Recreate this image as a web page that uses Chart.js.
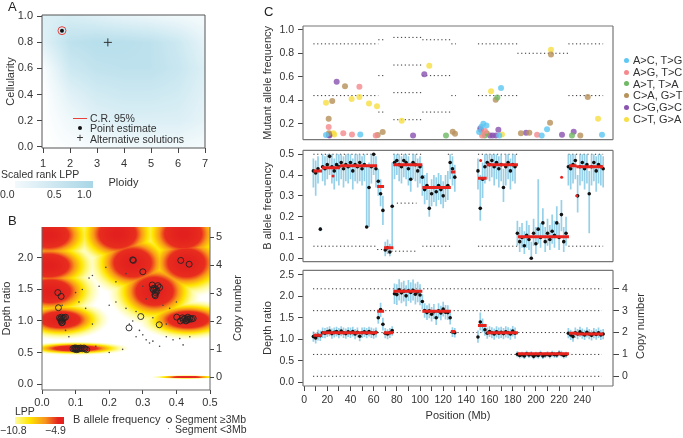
<!DOCTYPE html>
<html>
<head>
<meta charset="utf-8">
<script src="https://cdn.jsdelivr.net/npm/chart.js@4/dist/chart.umd.min.js"></script>
<style>
body{margin:0;background:#fff;font-family:"Liberation Sans",Arial,Helvetica,sans-serif;color:#333}
#fig{position:relative;width:683px;height:438px;overflow:hidden}
canvas{position:absolute}
.t{position:absolute;white-space:nowrap;font-size:10.5px;line-height:12px}
.big{font-size:13px;color:#222}
.rot{transform:translate(-50%,-50%) rotate(-90deg);font-size:11px}
</style>
</head>
<body>
<div id="fig">
  <canvas id="chartA" width="230" height="200" style="left:0;top:0"></canvas>
  <canvas id="chartB" width="250" height="238" style="left:0;top:200px"></canvas>
  <canvas id="chartC1" width="433" height="150" style="left:250px;top:0"></canvas>
  <canvas id="chartC2" width="433" height="132" style="left:250px;top:140px"></canvas>
  <canvas id="chartC3" width="433" height="178" style="left:250px;top:260px"></canvas>

  <div class="t big" style="left:8px;top:1px">A</div>
  <div class="t big" style="left:8px;top:215px">B</div>
  <div class="t big" style="left:264px;top:6px">C</div>

  <!-- panel A legend -->
  <div style="position:absolute;left:73px;top:117.5px;width:14px;height:1.2px;background:#e8413c"></div>
  <div class="t" style="left:90px;top:112px">C.R. 95%</div>
  <div style="position:absolute;left:78px;top:126px;width:4px;height:4px;border-radius:50%;background:#111"></div>
  <div class="t" style="left:90px;top:122px">Point estimate</div>
  <div class="t" style="left:76.5px;top:132px;font-size:12px">+</div>
  <div class="t" style="left:90px;top:133px">Alternative solutions</div>
  <div class="t" style="left:1px;top:168px">Scaled rank LPP</div>
  <div style="position:absolute;left:15px;top:181px;width:78px;height:7px;background:linear-gradient(to right,#f3f9fc,#a9d6e6)"></div>
  <div class="t" style="left:0;top:188px">0.0</div>
  <div class="t" style="left:47px;top:188px">0.5</div>
  <div class="t" style="left:77px;top:188px">1.0</div>

  <!-- panel B legend -->
  <div class="t" style="left:15px;top:405px">LPP</div>
  <div style="position:absolute;left:15px;top:417px;width:49px;height:7px;background:linear-gradient(to right,#fffca0,#ffe500 30%,#f7931e 62%,#e4231f 88%)"></div>
  <div class="t" style="left:0;top:424px">&minus;10.8</div>
  <div class="t" style="left:45px;top:424px">&minus;4.9</div>
  <div class="t" style="left:73px;top:413px;font-size:11px">B allele frequency</div>
  <div style="position:absolute;left:165.5px;top:416.5px;width:4px;height:4px;border:0.9px solid #222;border-radius:50%"></div>
  <div class="t" style="left:175px;top:413px">Segment &ge;3Mb</div>
  <div style="position:absolute;left:167.5px;top:427.5px;width:1.6px;height:1.6px;border-radius:50%;background:#444"></div>
  <div class="t" style="left:175px;top:423px">Segment &lt;3Mb</div>

  <div class="t rot" style="left:237px;top:308px">Copy number</div>
  <div class="t rot" style="left:640px;top:326px">Copy number</div>
  <div id="mutLegend"></div>
</div>

<script>
// ===== Panel A data =====
const aPloidyGrid = [1, 2, 3, 4, 5, 6, 7];
const aCellGrid = [0, 0.2, 0.4, 0.6, 0.8, 1.0];
const aLppGrid = [            // scaled rank LPP, one row per aCellGrid value
  [0.00, 0.05, 0.10, 0.15, 0.15, 0.15, 0.10],
  [0.00, 0.15, 0.30, 0.35, 0.35, 0.35, 0.25],
  [0.00, 0.30, 0.45, 0.50, 0.50, 0.45, 0.30],
  [0.05, 0.50, 0.62, 0.65, 0.65, 0.55, 0.35],
  [0.30, 0.65, 0.72, 0.70, 0.65, 0.50, 0.25],
  [0.35, 0.40, 0.32, 0.25, 0.20, 0.15, 0.10]
];
const aEstPloidy = [1.7];
const aEstCell = [0.89];
const aAltPloidy = [3.4];
const aAltCell = [0.80];
const aPloidyTicks = [1, 2, 3, 4, 5, 6, 7];
const aCellTicks = [0, 0.2, 0.4, 0.6, 0.8, 1.0];

// ===== Panel B data =====
const bPeakBaf   = [0.02, 0.02, 0.025, 0.055, 0.10, 0.225, 0.27, 0.335, 0.42, 0.43, 0.435, 0.43];
const bPeakDepth = [2.36, 1.88, 1.47, 1.02, 0.565, 2.38, 1.92, 1.47, 2.38, 1.92, 1.02, 0.11];
const bPeakSdBaf = [0.07, 0.07, 0.07, 0.068, 0.075, 0.065, 0.065, 0.065, 0.065, 0.065, 0.07, 0.05];
const bPeakSdDep = [0.23, 0.21, 0.21, 0.15, 0.05, 0.26, 0.26, 0.26, 0.26, 0.26, 0.15, 0.014];
const bSegBaf = [0.27, 0.272, 0.30, 0.413, 0.438, 0.047, 0.057, 0.049, 0.294, 0.259, 0.349, 0.401,
  0.052, 0.058, 0.063, 0.060, 0.057, 0.061, 0.066, 0.055, 0.059, 0.070,
  0.092, 0.098, 0.101, 0.104, 0.107, 0.110, 0.103, 0.115, 0.120, 0.128, 0.133, 0.125, 0.097,
  0.328, 0.335, 0.340, 0.345, 0.332, 0.338, 0.336, 0.342, 0.330, 0.350, 0.337,
  0.420, 0.425, 0.430, 0.432, 0.436, 0.440, 0.428, 0.434, 0.445, 0.418, 0.450, 0.412];
const bSegDepth = [1.97, 1.96, 1.78, 1.96, 1.90, 1.45, 1.39, 1.21, 1.07, 0.89, 0.94, 1.06,
  1.05, 1.06, 1.04, 1.02, 1.00, 0.98, 1.05, 1.03, 0.97, 1.06,
  0.56, 0.55, 0.57, 0.56, 0.55, 0.565, 0.545, 0.57, 0.56, 0.555, 0.545, 0.57, 0.57,
  1.57, 1.52, 1.50, 1.56, 1.49, 1.45, 1.42, 1.47, 1.51, 1.53, 1.40,
  1.02, 1.04, 1.01, 1.03, 1.02, 1.04, 1.00, 1.06, 1.03, 1.05, 1.04, 1.00];
const bSmallBaf = [0.19, 0.15, 0.14, 0.17, 0.12, 0.11, 0.13, 0.20, 0.22, 0.25, 0.28, 0.27, 0.26, 0.29,
  0.28, 0.30, 0.31, 0.32, 0.33, 0.35, 0.37, 0.39, 0.41, 0.42, 0.36, 0.38, 0.40, 0.31, 0.30, 0.22,
  0.25, 0.07, 0.08, 0.16, 0.20, 0.24, 0.44, 0.37, 0.33, 0.06, 0.10, 0.15];
const bSmallDepth = [1.85, 1.72, 1.68, 1.55, 1.50, 1.30, 1.20, 1.25, 1.30, 1.20, 1.15, 1.00, 0.95, 0.85,
  0.75, 0.78, 0.70, 0.65, 0.68, 0.60, 0.75, 0.70, 0.72, 0.62, 1.25, 1.20, 1.30, 1.35, 1.55, 1.62,
  1.75, 0.85, 0.75, 0.60, 0.50, 0.55, 0.75, 0.95, 1.05, 1.25, 1.45, 0.95];
const bBafTicks = [0, 0.1, 0.2, 0.3, 0.4, 0.5];
const bDepthTicks = [0, 0.5, 1.0, 1.5, 2.0];
const bCopyTicks = [0, 1, 2, 3, 4, 5];
const bCopyBase = 0.11, bCopyStep = 0.444;   // depth ratio of copy number 0, and per copy

// ===== Panel C data =====
const mutLabels = ['A>C, T>G', 'A>G, T>C', 'A>T, T>A', 'C>A, G>T', 'C>G,G>C', 'C>T, G>A'];
const mutColors = ['#5ec8f2', '#f58a8e', '#6fb865', '#b8925c', '#8b54b0', '#f7df45'];
const mutPos = [18.9, 18.9, 21.2, 21.2, 21.4, 21.4, 21.8, 23.0, 24.3, 25.2, 26.0, 28.1, 33.8, 35.3, 41.0, 41.3,
  47.7, 47.7, 48.5, 56.0, 61.8, 62.9, 63.5, 67.8, 84.2, 94.0, 103.7, 108.0, 122.4, 128.2, 130.2,
  151.0, 152.6, 153.6, 154.6, 155.9, 157.3, 157.5, 152.0, 154.0, 156.0, 153.0, 160.4, 162.7, 165.5,
  167.6, 168.4, 170.7, 161.3, 169.9, 166.7, 165.3,
  187.1, 191.5, 194.3, 201.0, 205.0, 209.6, 212.2, 213.0, 213.0, 222.5, 231.1, 232.6, 238.3, 244.7, 253.6, 257.0];
const mutAf = [0.38, 0.106, 0.243, 0.173, 0.12, 0.105, 0.10, 0.115, 0.394, 0.12, 0.11, 0.557, 0.12, 0.52, 0.412, 0.11,
  0.515, 0.428, 0.11, 0.372, 0.10, 0.35, 0.105, 0.13, 0.227, 0.10, 0.622, 0.694, 0.10, 0.133, 0.115,
  0.13, 0.15, 0.10, 0.20, 0.10, 0.185, 0.12, 0.16, 0.12, 0.14, 0.175, 0.10, 0.10, 0.10,
  0.15, 0.10, 0.11, 0.477, 0.504, 0.423, 0.404,
  0.12, 0.125, 0.125, 0.107, 0.10, 0.154, 0.21, 0.829, 0.789, 0.107, 0.10, 0.133, 0.10, 0.428, 0.243, 0.107];
const mutClass = [5, 0, 3, 1, 3, 4, 4, 5, 3, 5, 5, 4, 1, 3, 5, 1,
  1, 5, 0, 5, 1, 5, 3, 3, 5, 4, 4, 5, 2, 3, 3,
  0, 4, 1, 0, 2, 0, 3, 4, 5, 1, 0, 4, 4, 4,
  4, 0, 5, 5, 0, 2, 3,
  3, 4, 3, 1, 0, 0, 3, 5, 3, 4, 2, 4, 3, 3, 5, 0];
// expected mutant allele frequencies per segment (dotted)
const mafSegStart = [8, 8, 64, 64, 64, 77, 77, 77, 77, 102, 102, 102, 127, 127, 150, 150, 184, 228, 228];
const mafSegEnd   = [64, 64, 70, 70, 70, 102, 102, 102, 102, 127, 127, 127, 131, 131, 184, 184, 228, 258, 258];
const mafSegLevel = [0.88, 0.44, 0.915, 0.61, 0.30, 0.935, 0.70, 0.465, 0.235, 0.915, 0.61, 0.30, 0.88, 0.44, 0.88, 0.44, 0.80, 0.88, 0.44];

const binPos = [
  8, 10, 12, 14, 16, 18, 20, 22, 24, 26,
  28, 30, 32, 34, 36, 38, 40, 42, 44, 46,
  48, 50, 52, 54, 56, 58, 60, 62, 64, 66,
  68, 70, 72, 74, 76, 78, 80, 82, 84, 86,
  88, 90, 92, 94, 96, 98, 100, 102, 104, 106,
  108, 110, 112, 114, 116, 118, 120, 122, 124, 126,
  128, 130,
  150, 152, 154, 156, 158, 160, 162, 164, 166, 168,
  170, 172, 174, 176, 178, 180, 182, 184, 186, 188,
  190, 192, 194, 196, 198, 200, 202, 204, 206, 208,
  210, 212, 214, 216, 218, 220, 222, 224, 226, 228,
  230, 232, 234, 236, 238, 240, 242, 244, 246, 248,
  250, 252, 254, 256, 258];
const bafVal = [
  0.42, 0.41, 0.43, 0.14, 0.44, 0.43, 0.45, 0.49, 0.44, 0.42,
  0.45, 0.44, 0.46, 0.43, 0.45, 0.44, 0.46, 0.42, 0.45, 0.44,
  0.46, 0.43, 0.45, 0.15, 0.34, 0.44, 0.50, 0.43, 0.37, 0.31,
  0.23, 0.04, 0.05, 0.03, 0.25, 0.46, 0.47, 0.45, 0.44, 0.47,
  0.46, 0.43, 0.38, 0.46, 0.45, 0.42, 0.44, 0.39, 0.33, 0.35,
  0.24, 0.31, 0.34, 0.32, 0.35, 0.33, 0.30, 0.34, 0.35, 0.46,
  0.43, 0.39,
  0.42, 0.24, 0.38, 0.44, 0.46, 0.45, 0.47, 0.44, 0.46, 0.43,
  0.45, 0.34, 0.44, 0.46, 0.42, 0.45, 0.44, 0.12, 0.08, 0.10,
  0.06, 0.11, 0.09, 0.00, 0.12, 0.07, 0.14, 0.10, 0.17, 0.08,
  0.12, 0.09, 0.13, 0.11, 0.17, 0.10, 0.21, 0.08, 0.12, 0.44,
  0.43, 0.45, 0.47, 0.30, 0.44, 0.46, 0.43, 0.45, 0.31, 0.44,
  0.46, 0.42, 0.45, 0.44, 0.43];
const bafHigh = [
  0.48, 0.47, 0.49, 0.15, 0.50, 0.49, 0.50, 0.50, 0.50, 0.48,
  0.50, 0.50, 0.50, 0.49, 0.50, 0.50, 0.50, 0.48, 0.50, 0.50,
  0.50, 0.49, 0.50, 0.44, 0.46, 0.50, 0.50, 0.49, 0.43, 0.38,
  0.30, 0.08, 0.09, 0.07, 0.46, 0.50, 0.50, 0.50, 0.49, 0.50,
  0.50, 0.49, 0.46, 0.50, 0.50, 0.48, 0.49, 0.45, 0.40, 0.41,
  0.33, 0.38, 0.40, 0.39, 0.41, 0.40, 0.37, 0.40, 0.42, 0.50,
  0.49, 0.45,
  0.48, 0.40, 0.46, 0.50, 0.50, 0.50, 0.50, 0.50, 0.50, 0.49,
  0.50, 0.43, 0.50, 0.50, 0.48, 0.50, 0.50, 0.18, 0.15, 0.17,
  0.13, 0.18, 0.16, 0.08, 0.19, 0.15, 0.38, 0.17, 0.24, 0.15,
  0.19, 0.16, 0.21, 0.18, 0.25, 0.17, 0.28, 0.15, 0.20, 0.50,
  0.50, 0.50, 0.50, 0.40, 0.50, 0.50, 0.50, 0.50, 0.42, 0.50,
  0.50, 0.49, 0.50, 0.50, 0.49];
const bafLow = [
  0.34, 0.30, 0.36, 0.13, 0.37, 0.35, 0.38, 0.40, 0.36, 0.33,
  0.37, 0.35, 0.38, 0.34, 0.37, 0.36, 0.38, 0.33, 0.37, 0.36,
  0.37, 0.35, 0.37, 0.15, 0.15, 0.36, 0.40, 0.34, 0.30, 0.25,
  0.16, 0.01, 0.02, 0.01, 0.05, 0.38, 0.40, 0.37, 0.36, 0.39,
  0.38, 0.35, 0.32, 0.38, 0.37, 0.34, 0.36, 0.30, 0.26, 0.28,
  0.20, 0.25, 0.27, 0.25, 0.28, 0.26, 0.24, 0.27, 0.28, 0.38,
  0.35, 0.32,
  0.33, 0.18, 0.29, 0.36, 0.38, 0.37, 0.39, 0.35, 0.38, 0.34,
  0.37, 0.27, 0.35, 0.38, 0.33, 0.37, 0.36, 0.06, 0.03, 0.05,
  0.02, 0.05, 0.04, 0.00, 0.06, 0.02, 0.07, 0.05, 0.10, 0.03,
  0.06, 0.04, 0.07, 0.05, 0.10, 0.04, 0.13, 0.03, 0.06, 0.35,
  0.33, 0.36, 0.38, 0.22, 0.35, 0.37, 0.33, 0.36, 0.12, 0.35,
  0.37, 0.32, 0.36, 0.35, 0.34];
const depthVal = [
  1.06, 1.03, 1.09, 1.08, 1.15, 1.14, 1.17, 1.19, 1.13, 1.16,
  1.18, 1.14, 1.19, 1.15, 1.13, 1.17, 1.15, 1.18, 1.12, 1.16,
  1.07, 1.15, 1.17, 1.14, 1.18, 1.15, 1.13, 1.16, 1.50, 1.69,
  1.35, 1.14, 1.12, 1.15, 1.20, 2.06, 2.04, 2.15, 2.08, 2.12,
  2.01, 2.13, 2.09, 2.14, 2.05, 2.10, 2.03, 1.88, 1.67, 1.62,
  1.66, 1.58, 1.64, 1.50, 1.66, 1.61, 1.70, 1.63, 1.62, 1.50,
  1.17, 1.15,
  1.05, 1.40, 1.32, 1.22, 1.14, 1.18, 1.15, 1.12, 1.17, 1.14,
  1.16, 1.13, 1.17, 1.15, 1.12, 1.19, 1.14, 0.65, 0.62, 0.64,
  0.61, 0.66, 0.63, 0.65, 0.60, 0.64, 0.62, 0.66, 0.61, 0.63,
  0.65, 0.62, 0.66, 0.64, 0.63, 0.67, 0.65, 0.62, 0.64, 1.14,
  1.10, 1.06, 1.15, 1.12, 1.17, 1.13, 1.10, 1.16, 1.12, 1.09,
  1.14, 1.11, 1.15, 1.10, 1.12];
const depthHigh = [
  1.18, 1.15, 1.22, 1.20, 1.27, 1.26, 1.28, 1.30, 1.25, 1.27,
  1.29, 1.26, 1.30, 1.27, 1.25, 1.28, 1.27, 1.29, 1.24, 1.27,
  1.19, 1.27, 1.28, 1.26, 1.29, 1.27, 1.25, 1.27, 1.62, 1.85,
  1.50, 1.26, 1.23, 1.26, 1.30, 2.30, 2.28, 2.40, 2.33, 2.36,
  2.26, 2.38, 2.33, 2.39, 2.30, 2.34, 2.28, 2.05, 1.84, 1.79,
  1.83, 1.75, 1.82, 1.68, 1.84, 1.78, 1.87, 1.80, 1.79, 1.66,
  1.28, 1.26,
  1.20, 1.62, 1.48, 1.36, 1.27, 1.30, 1.28, 1.25, 1.30, 1.27,
  1.29, 1.26, 1.30, 1.28, 1.25, 1.31, 1.27, 0.72, 0.69, 0.71,
  0.68, 0.73, 0.70, 0.72, 0.67, 0.71, 0.69, 0.73, 0.68, 0.70,
  0.72, 0.69, 0.73, 0.71, 0.70, 0.74, 0.73, 0.69, 0.71, 1.26,
  1.22, 1.18, 1.27, 1.24, 1.29, 1.25, 1.22, 1.28, 1.24, 1.21,
  1.26, 1.23, 1.27, 1.22, 1.24];
const depthLow = [
  0.94, 0.90, 0.97, 0.96, 1.03, 1.02, 1.05, 1.07, 1.01, 1.04,
  1.06, 1.02, 1.07, 1.03, 1.01, 1.05, 1.03, 1.06, 1.00, 1.04,
  0.95, 1.03, 1.05, 1.02, 1.06, 1.03, 1.01, 1.04, 1.36, 1.52,
  1.20, 1.02, 1.00, 1.03, 1.08, 1.82, 1.80, 1.90, 1.84, 1.88,
  1.77, 1.89, 1.85, 1.90, 1.81, 1.86, 1.79, 1.70, 1.50, 1.45,
  1.49, 1.41, 1.47, 1.33, 1.49, 1.44, 1.53, 1.46, 1.45, 1.34,
  1.05, 1.04,
  0.92, 1.20, 1.16, 1.08, 1.01, 1.05, 1.02, 0.99, 1.04, 1.01,
  1.03, 1.00, 1.04, 1.02, 0.99, 1.06, 1.01, 0.58, 0.55, 0.57,
  0.54, 0.59, 0.56, 0.58, 0.53, 0.57, 0.55, 0.59, 0.54, 0.56,
  0.58, 0.55, 0.59, 0.57, 0.56, 0.60, 0.58, 0.55, 0.57, 1.02,
  0.98, 0.94, 1.03, 1.00, 1.05, 1.01, 0.98, 1.04, 1.00, 0.97,
  1.02, 0.99, 1.03, 0.98, 1.00];
// segmentation (red)
const segStart = [8, 15.5, 31, 63, 69, 77, 102, 126.6, 150, 157.5, 184.5, 228.5, 235];
const segEnd   = [15.5, 31, 63, 69, 77, 102, 126.6, 130.5, 157.5, 184.5, 228.5, 235, 258];
const segBaf   = [0.42, 0.435, 0.445, 0.345, 0.05, 0.45, 0.34, 0.415, 0.385, 0.45, 0.103, 0.445, 0.44];
const segDepth = [1.09, 1.15, 1.15, 1.65, 1.15, 2.12, 1.65, 1.18, 1.32, 1.15, 0.66, 1.14, 1.12];
const bafRedPos = [25, 152.3, 222.2, 235.2];
const bafRedVal = [0.395, 0.47, 0.39, 0.30];
// expected B allele frequencies per segment (dotted)
const bafExpStart = [8, 8, 63, 72, 77, 80, 102, 124, 150, 150, 228, 228];
const bafExpEnd   = [63, 63, 72, 97, 102, 97, 128, 128, 184, 184, 258, 258];
const bafExpLevel = [0.5, 0.058, 0.042, 0.034, 0.5, 0.265, 0.058, 0.5, 0.5, 0.058, 0.5, 0.058];
// copy number levels in depth ratio (dotted)
const cnDepthLevels = [0.135, 0.645, 1.155, 1.665, 2.175];
const cnLineStart = 7.7, cnLineEnd = 257;
const cCopyBase = 0.135, cCopyStep = 0.51;
const posTicks = [0, 10, 20, 30, 40, 50, 60, 70, 80, 90, 100, 110, 120, 130, 140, 150, 160, 170, 180, 190, 200, 210, 220, 230, 240, 250];
const mafTicks = [0.2, 0.4, 0.6, 0.8, 1.0];
const bafTicks = [0, 0.1, 0.2, 0.3, 0.4, 0.5];
const depthTicks = [0, 0.5, 1.0, 1.5, 2.0, 2.5];
const copyTicks = [0, 1, 2, 3, 4];

// ===== Helpers =====
Chart.defaults.font.family = '"Liberation Sans", Arial, Helvetica, sans-serif';
Chart.defaults.font.size = 10.5;
Chart.defaults.color = '#333';
Chart.defaults.animation = false;
Chart.defaults.plugins.legend.display = false;
Chart.defaults.plugins.tooltip.enabled = false;

const xy = (xs, ys) => xs.map((x, i) => ({ x, y: ys[i] }));
function hsegs(s, e, v) {
  const out = [];
  s.forEach((x, i) => out.push({ x, y: v[i] }, { x: e[i], y: v[i] }, { x: e[i], y: null }));
  return out;
}
function vbars(xs, lo, hi) {
  const out = [];
  xs.forEach((x, i) => out.push({ x, y: lo[i] }, { x, y: hi[i] }, { x, y: null }));
  return out;
}
const fix1 = v => v.toFixed(1);

function axis(o) {
  return {
    type: 'linear', position: o.position, min: o.min, max: o.max, display: o.display !== false,
    border: { display: false },
    grid: { drawOnChartArea: false, tickLength: o.tickLen || 5, color: '#444', lineWidth: 1 },
    ticks: { padding: o.pad == null ? 4 : o.pad, autoSkip: false, maxRotation: 0, callback: o.fmt || (v => String(v)), font: { size: o.size || 10.5 } },
    title: o.title ? { display: true, text: o.title, font: { size: 11 }, padding: o.titlePad, color: '#333' } : { display: false },
    afterBuildTicks: s => { s.ticks = (o.ticks || []).map(v => ({ value: v })); },
    afterFit: s => { if (o.width != null) s.width = o.width; if (o.height != null) s.height = o.height; }
  };
}

// frame around the plotting region
const boxPlugin = {
  id: 'box',
  afterDatasetsDraw(chart, args, opts) {
    const { ctx, chartArea: a } = chart;
    const sides = opts.sides || 'tlbr';
    ctx.save();
    ctx.strokeStyle = opts.color || '#555';
    ctx.lineWidth = opts.width || 1;
    ctx.beginPath();
    if (sides.includes('t')) { ctx.moveTo(a.left, a.top); ctx.lineTo(a.right, a.top); }
    if (sides.includes('b')) { ctx.moveTo(a.left, a.bottom); ctx.lineTo(a.right, a.bottom); }
    if (sides.includes('l')) { ctx.moveTo(a.left, a.top); ctx.lineTo(a.left, a.bottom); }
    if (sides.includes('r')) { ctx.moveTo(a.right, a.top); ctx.lineTo(a.right, a.bottom); }
    ctx.stroke();
    ctx.restore();
  }
};

// raster background drawn through the chart scales
function heatPlugin(field, colour) {
  return {
    id: 'heat',
    beforeDatasetsDraw(chart) {
      const { ctx, chartArea: a, scales: { x, y } } = chart;
      const w = Math.round(a.right - a.left), h = Math.round(a.bottom - a.top);
      const off = document.createElement('canvas');
      off.width = w; off.height = h;
      const octx = off.getContext('2d');
      const img = octx.createImageData(w, h);
      for (let j = 0; j < h; j++) {
        const yv = y.getValueForPixel(a.top + j + 0.5);
        for (let i = 0; i < w; i++) {
          const c = colour(field(x.getValueForPixel(a.left + i + 0.5), yv));
          const k = (j * w + i) * 4;
          img.data[k] = c[0]; img.data[k + 1] = c[1]; img.data[k + 2] = c[2]; img.data[k + 3] = 255;
        }
      }
      octx.putImageData(img, 0, 0);
      ctx.drawImage(off, a.left, a.top);
    }
  };
}

function ramp(stops, v) {
  if (v <= stops[0][0]) return stops[0][1];
  for (let i = 1; i < stops.length; i++) {
    if (v <= stops[i][0]) {
      const [v0, c0] = stops[i - 1], [v1, c1] = stops[i];
      const t = (v - v0) / (v1 - v0);
      return c0.map((c, k) => c + (c1[k] - c) * t);
    }
  }
  return stops[stops.length - 1][1];
}

function lppA(p, c) {
  const fi = Math.max(0, Math.min(aPloidyGrid.length - 1.001, p - aPloidyGrid[0]));
  const fj = Math.max(0, Math.min(aCellGrid.length - 1.001, c / 0.2));
  const i = Math.floor(fi), j = Math.floor(fj), u = fi - i, v = fj - j;
  return aLppGrid[j][i] * (1 - u) * (1 - v) + aLppGrid[j][i + 1] * u * (1 - v) +
         aLppGrid[j + 1][i] * (1 - u) * v + aLppGrid[j + 1][i + 1] * u * v;
}
const colourA = v => [255 - 100 * v, 255 - 45 * v, 255 - 27 * v];

function lppB(b, d) {
  let m = 0;
  for (let k = 0; k < bPeakBaf.length; k++) {
    const dx = (b - bPeakBaf[k]) / bPeakSdBaf[k], dy = (d - bPeakDepth[k]) / bPeakSdDep[k];
    m = Math.max(m, Math.exp(-0.5 * (dx * dx + dy * dy)));
  }
  return m;
}
const bStops = [[0.1, [255, 255, 255]], [0.22, [255, 251, 160]], [0.38, [255, 229, 0]],
                [0.55, [248, 150, 25]], [0.7, [232, 45, 30]], [1, [226, 32, 30]]];
const colourB = v => ramp(bStops, v);

// ===== Panel A =====
new Chart(document.getElementById('chartA'), {
  type: 'scatter',
  data: { datasets: [
    { data: xy(aEstPloidy, aEstCell), pointRadius: 4, pointBackgroundColor: 'rgba(0,0,0,0)', pointBorderColor: '#e8413c', pointBorderWidth: 1 },
    { data: xy(aEstPloidy, aEstCell), pointRadius: 2, pointBackgroundColor: '#111', pointBorderWidth: 0 },
    { data: xy(aAltPloidy, aAltCell), pointStyle: 'cross', pointRadius: 4, pointBorderColor: '#333', pointBorderWidth: 1 }
  ] },
  options: {
    responsive: false,
    layout: { padding: { top: 15, right: 25 } },
    scales: {
      x: axis({ position: 'bottom', min: 0.96, max: 7.0, ticks: aPloidyTicks, height: 52, size: 11,
                title: 'Ploidy', titlePad: { top: 0, bottom: 10 } }),
      y: axis({ position: 'left', min: -0.01, max: 1.01, ticks: aCellTicks, fmt: fix1, width: 42, size: 11,
                title: 'Cellularity', titlePad: { top: 4, bottom: 0 } })
    },
    plugins: { box: { color: '#555' } }
  },
  plugins: [heatPlugin(lppA, colourA), boxPlugin]
});

// ===== Panel B =====
new Chart(document.getElementById('chartB'), {
  type: 'scatter',
  data: { datasets: [
    { data: xy(bSegBaf, bSegDepth), pointRadius: 3, pointBackgroundColor: 'rgba(0,0,0,0)', pointBorderColor: '#222', pointBorderWidth: 0.9 },
    { data: xy(bSmallBaf, bSmallDepth), pointRadius: 0.8, pointBackgroundColor: '#444', pointBorderWidth: 0 }
  ] },
  options: {
    responsive: false,
    layout: { padding: { top: 27 } },
    scales: {
      x: axis({ position: 'bottom', min: 0, max: 0.5, ticks: bBafTicks, fmt: fix1, height: 48, tickLen: 4, pad: 2, size: 11 }),
      y: axis({ position: 'left', min: -0.095, max: 2.49, ticks: bDepthTicks, fmt: fix1, width: 42, size: 11,
                title: 'Depth ratio', titlePad: { top: 0, bottom: 0 } }),
      y2: axis({ position: 'right', min: (-0.095 - bCopyBase) / bCopyStep, max: (2.49 - bCopyBase) / bCopyStep,
                 ticks: bCopyTicks, width: 40, tickLen: 4, pad: 2, size: 11 })
    },
    plugins: { box: { sides: 'lbr', color: '#666' } }
  },
  plugins: [heatPlugin(lppB, colourB), boxPlugin]
});

// ===== Panel C =====
const dotted = (data, order) => ({ data, showLine: true, borderColor: '#333', borderWidth: 1, borderDash: [1.2, 2.6], pointRadius: 0, spanGaps: false, order });
const cX = { min: -0.95, max: 266.5 };

const mutSets = mutLabels.map((lab, k) => ({
  label: lab,
  data: mutPos.map((x, i) => ({ x, y: mutAf[i], c: mutClass[i] })).filter(p => p.c === k),
  pointRadius: 3, pointBorderWidth: 0, pointBackgroundColor: mutColors[k] + 'd0', order: 1
}));
new Chart(document.getElementById('chartC1'), {
  type: 'scatter',
  data: { datasets: [...mutSets, dotted(hsegs(mafSegStart, mafSegEnd, mafSegLevel), 2)] },
  options: {
    responsive: false,
    layout: { padding: { top: 26, right: 70, bottom: 4 } },
    scales: {
      x: Object.assign(axis({ position: 'bottom', display: false }), cX),
      y: axis({ position: 'left', min: 0.065, max: 1.032, ticks: mafTicks, fmt: fix1, width: 53,
                title: 'Mutant allele frequency', titlePad: { top: 11, bottom: 0 } })
    },
    plugins: { box: { color: '#777', width: 1.2 } }
  },
  plugins: [boxPlugin]
});

const blue = 'rgba(125,198,228,0.8)';
new Chart(document.getElementById('chartC2'), {
  type: 'scatter',
  data: { datasets: [
    { data: hsegs(segStart, segEnd, segBaf), showLine: true, borderColor: '#e8241f', borderWidth: 3, pointRadius: 0, spanGaps: false, order: 0 },
    { data: xy(bafRedPos, bafRedVal), pointRadius: 1.5, pointBackgroundColor: '#e8241f', pointBorderWidth: 0, order: 1 },
    { data: xy(binPos, bafVal), pointRadius: 1.8, pointBackgroundColor: '#111', pointBorderWidth: 0, order: 2 },
    { data: vbars(binPos, bafLow, bafHigh), showLine: true, borderColor: blue, borderWidth: 1.7, pointRadius: 0, spanGaps: false, order: 3 },
    dotted(hsegs(bafExpStart, bafExpEnd, bafExpLevel), 4)
  ] },
  options: {
    responsive: false,
    layout: { padding: { top: 6, right: 70, bottom: 6 } },
    scales: {
      x: Object.assign(axis({ position: 'bottom', display: false }), cX),
      y: axis({ position: 'left', min: -0.0165, max: 0.519, ticks: bafTicks, fmt: fix1, width: 53,
                title: 'B allele frequency', titlePad: { top: 11, bottom: 0 } })
    },
    plugins: { box: { color: '#777', width: 1.2 } }
  },
  plugins: [boxPlugin]
});

new Chart(document.getElementById('chartC3'), {
  type: 'scatter',
  data: { datasets: [
    { data: hsegs(segStart, segEnd, segDepth), showLine: true, borderColor: '#e8241f', borderWidth: 3, pointRadius: 0, spanGaps: false, order: 0 },
    { data: xy(binPos, depthVal), pointRadius: 1.8, pointBackgroundColor: '#111', pointBorderWidth: 0, order: 1 },
    { data: vbars(binPos, depthLow, depthHigh), showLine: true, borderColor: blue, borderWidth: 1.7, pointRadius: 0, spanGaps: false, order: 2 },
    dotted(hsegs(cnDepthLevels.map(() => cnLineStart), cnDepthLevels.map(() => cnLineEnd), cnDepthLevels), 3)
  ] },
  options: {
    responsive: false,
    layout: { padding: { top: 6 } },
    scales: {
      x: Object.assign(axis({ position: 'bottom', ticks: posTicks, height: 52, pad: 3,
                              fmt: v => (v % 20 === 0 ? String(v) : ''),
                              title: 'Position (Mb)', titlePad: { top: 0, bottom: 15 } }), cX),
      y: axis({ position: 'left', min: -0.091, max: 2.606, ticks: depthTicks, fmt: fix1, width: 53,
                title: 'Depth ratio', titlePad: { top: 11, bottom: 0 } }),
      y2: axis({ position: 'right', min: (-0.091 - cCopyBase) / cCopyStep, max: (2.606 - cCopyBase) / cCopyStep,
                 ticks: copyTicks, width: 70, tickLen: 6, pad: 3 })
    },
    plugins: { box: { color: '#777', width: 1.2 } }
  },
  plugins: [boxPlugin]
});

// mutation class legend
const legendRows = [60, 72, 83.5, 95, 107, 119];
document.getElementById('mutLegend').innerHTML = mutLabels.map((lab, k) =>
  `<div style="position:absolute;left:624px;top:${legendRows[k] - 2.5}px;width:5px;height:5px;border-radius:50%;background:${mutColors[k]}"></div>` +
  `<div class="t" style="left:633px;top:${legendRows[k] - 6}px;font-size:11px">${lab.replace(/>/g, '&gt;')}</div>`
).join('');
</script>
</body>
</html>
